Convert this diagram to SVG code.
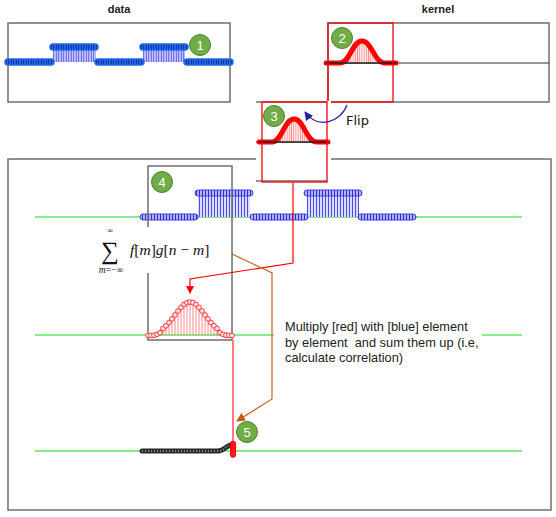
<svg xmlns="http://www.w3.org/2000/svg" width="556" height="517" viewBox="0 0 556 517">
<style>
.frame{fill:none;stroke:#6e6e6e;stroke-width:1.5}
.axis{stroke:#333;stroke-width:1.2}
.green{stroke:#5be85b;stroke-width:1.6}
.badge circle{fill:#70ad47;stroke:#507e32;stroke-width:1}
.badge text{fill:#fff;font-family:"Liberation Sans",Arial,sans-serif;font-size:13px;text-anchor:middle}
.title{font-family:"Liberation Sans",Arial,sans-serif;font-size:11px;font-weight:bold;text-anchor:middle;fill:#222}
.bcap{fill:url(#pBlueDot);stroke:#3a3aff;stroke-width:1}
.dcap{fill:url(#pDataDot);stroke:#1e6ae6;stroke-width:1.5}
.bell{fill:none;stroke:#ff0000;stroke-width:5;stroke-linecap:round;stroke-linejoin:round}
.rc{fill:#ffe4e4;stroke:#ff3a3a;stroke-width:1}
.para{font-family:"Liberation Sans",Arial,sans-serif;font-size:12.8px;fill:#222;white-space:pre}
.math{font-family:"Liberation Serif","Times New Roman",serif;fill:#111}
</style>
<defs>
<pattern id="pBlueStem" width="3" height="4" patternUnits="userSpaceOnUse"><rect width="3" height="4" fill="#dcdcff"/><line x1="1.5" y1="0" x2="1.5" y2="4" stroke="#3c3cf0" stroke-width="0.9"/></pattern>
<pattern id="pBlueDot" width="3" height="4" patternUnits="userSpaceOnUse"><rect width="3" height="4" fill="#b4b4ff"/><line x1="1.5" y1="0" x2="1.5" y2="4" stroke="#1c1cb8" stroke-width="0.9"/></pattern>
<pattern id="pDataStem" width="2.5" height="4" patternUnits="userSpaceOnUse"><rect width="2.5" height="4" fill="#c4c4ff"/><line x1="1.25" y1="0" x2="1.25" y2="4" stroke="#3b3bea" stroke-width="0.8"/></pattern>
<pattern id="pDataDot" width="2.5" height="4" patternUnits="userSpaceOnUse"><rect width="2.5" height="4" fill="#2d72ea"/><line x1="1.25" y1="0" x2="1.25" y2="4" stroke="#001c9a" stroke-width="1"/></pattern>
<pattern id="pRedStem" width="2.2" height="4" patternUnits="userSpaceOnUse"><rect width="2.2" height="4" fill="#ffe8e8"/><line x1="1.1" y1="0" x2="1.1" y2="4" stroke="#ff5c5c" stroke-width="0.6"/></pattern>
<marker id="mRed" markerWidth="8" markerHeight="8" refX="7" refY="4" orient="auto" markerUnits="userSpaceOnUse"><path d="M0,0 L8,4 L0,8 z" fill="#ff0000"/></marker>
<marker id="mOrange" markerWidth="9" markerHeight="9" refX="8" refY="4.5" orient="auto" markerUnits="userSpaceOnUse"><path d="M0,0 L9,4.5 L0,9 z" fill="#c55a11"/></marker>
<marker id="mBlue" markerWidth="9" markerHeight="9" refX="8" refY="4.5" orient="auto" markerUnits="userSpaceOnUse"><path d="M0,0 L9,4.5 L0,9 z" fill="#2b1fa8"/></marker>
</defs>
<rect width="556" height="517" fill="#fff"/>

<text class="title" x="119" y="13">data</text>
<text class="title" x="438" y="13">kernel</text>

<!-- main stage frame -->
<rect id="stage" class="frame" x="8" y="159" width="543" height="351"/>

<!-- data panel -->
<g id="data">
<rect class="frame" x="8" y="23" width="222" height="79"/>
<rect x="53" y="47" width="43" height="15" fill="url(#pDataStem)"/>
<rect x="143" y="47" width="42" height="15" fill="url(#pDataStem)"/>
<rect class="dcap" x="5" y="59" width="49" height="6" rx="3"/>
<rect class="dcap" x="50" y="44" width="48" height="6" rx="3"/>
<rect class="dcap" x="95" y="59" width="49" height="6" rx="3"/>
<rect class="dcap" x="140" y="44" width="48" height="6" rx="3"/>
<rect class="dcap" x="184" y="59" width="49" height="6" rx="3"/>
<g class="badge"><circle cx="200" cy="45" r="10.5"/><text x="200" y="49.5">1</text></g>
</g>

<!-- kernel panel -->
<g id="kernel">
<rect class="frame" x="328" y="23" width="221" height="79"/>
<line x1="328" y1="63" x2="549" y2="63" class="axis"/>
<path d="M340,63 C350,63 352,41 362,41 C372,41 374,63 385,63 Z" fill="url(#pRedStem)"/>
<path class="bell" d="M326,63 L340,63 C350,63 352,41 362,41 C372,41 374,63 385,63 L396,63"/>
<line x1="326" y1="63" x2="396" y2="63" stroke="#222" stroke-width="1.5"/>
<rect x="328" y="23" width="65" height="79" fill="none" stroke="#ff0000" stroke-width="1.3"/>
<g class="badge"><circle cx="342" cy="38" r="10.5"/><text x="342" y="42.5">2</text></g>
</g>

<!-- flipped kernel -->
<g id="flipped">
<rect x="256" y="101" width="75" height="82" fill="#fff"/>
<line x1="256" y1="102" x2="327" y2="102" stroke="#6e6e6e" stroke-width="1.5"/>
<line x1="256" y1="181" x2="327" y2="181" stroke="#6e6e6e" stroke-width="1.5"/>
<line x1="256" y1="142" x2="327" y2="142" class="axis"/>
<path d="M272,142 C282,142 284,119 294,119 C304,119 306,142 317,142 Z" fill="url(#pRedStem)"/>
<path class="bell" d="M259,142 L272,142 C282,142 284,119 294,119 C304,119 306,142 317,142 L328,142"/>
<line x1="259" y1="142" x2="328" y2="142" stroke="#222" stroke-width="1.5"/>
<rect x="262" y="102" width="65" height="80" fill="none" stroke="#ff0000" stroke-width="1.3"/>
<g class="badge"><circle cx="274" cy="116" r="10.5"/><text x="274" y="120.5">3</text></g>
<text x="346" y="125" font-family="'DejaVu Sans',sans-serif" font-size="13" fill="#111">Flip</text>
</g>

<!-- axes -->
<line class="green" x1="35" y1="217" x2="522" y2="217"/>
<line class="green" x1="35" y1="335" x2="522" y2="335"/>
<line class="green" x1="35" y1="451" x2="522" y2="451"/>

<!-- shifted data -->
<g id="signal">
<rect x="198" y="193" width="52" height="24" fill="url(#pBlueStem)"/>
<rect x="307" y="193" width="52" height="24" fill="url(#pBlueStem)"/>
<rect class="bcap" x="140" y="214" width="58" height="6" rx="3"/>
<rect class="bcap" x="195" y="190" width="58" height="6" rx="3"/>
<rect class="bcap" x="250" y="214" width="58" height="6" rx="3"/>
<rect class="bcap" x="304" y="190" width="58" height="6" rx="3"/>
<rect class="bcap" x="358" y="214" width="58" height="6" rx="3"/>
</g>

<!-- sliding window -->
<g id="window">
<rect class="frame" x="148" y="166" width="84" height="174"/>
<g class="badge"><circle cx="162" cy="182" r="10.5"/><text x="162" y="186.5">4</text></g>
<path d="M148,334.3V335M151,333.9V335M154,333.2V335M157,332.1V335M160,330.5V335M163,328.5V335M166,325.8V335M169,322.6V335M172,318.9V335M175,315V335M178,311V335M181,307.4V335M184,304.5V335M187,302.7V335M190,302V335M193,302.7V335M196,304.5V335M199,307.4V335M202,311V335M205,315V335M208,318.9V335M211,322.6V335M214,325.8V335M217,328.5V335M220,330.5V335M223,332.1V335M226,333.2V335M229,333.9V335M232,334.3V335" stroke="#ff6a6a" stroke-width="0.8"/>
<g>
<circle class="rc" cx="148" cy="335.5" r="2.4"/><circle class="rc" cx="151" cy="335.4" r="2.4"/><circle class="rc" cx="154" cy="335.2" r="2.4"/><circle class="rc" cx="157" cy="334.4" r="2.4"/><circle class="rc" cx="160" cy="332.8" r="2.4"/><circle class="rc" cx="163" cy="328.5" r="2.4"/><circle class="rc" cx="166" cy="325.8" r="2.4"/><circle class="rc" cx="169" cy="322.6" r="2.4"/><circle class="rc" cx="172" cy="318.9" r="2.4"/><circle class="rc" cx="175" cy="315" r="2.4"/><circle class="rc" cx="178" cy="311" r="2.4"/><circle class="rc" cx="181" cy="307.4" r="2.4"/><circle class="rc" cx="184" cy="304.5" r="2.4"/><circle class="rc" cx="187" cy="302.7" r="2.4"/><circle class="rc" cx="190" cy="302" r="2.4"/><circle class="rc" cx="193" cy="302.7" r="2.4"/><circle class="rc" cx="196" cy="304.5" r="2.4"/><circle class="rc" cx="199" cy="307.4" r="2.4"/><circle class="rc" cx="202" cy="311" r="2.4"/><circle class="rc" cx="205" cy="315" r="2.4"/><circle class="rc" cx="208" cy="318.9" r="2.4"/><circle class="rc" cx="211" cy="322.6" r="2.4"/><circle class="rc" cx="214" cy="325.8" r="2.4"/><circle class="rc" cx="217" cy="328.5" r="2.4"/><circle class="rc" cx="220" cy="332.8" r="2.4"/><circle class="rc" cx="223" cy="334.4" r="2.4"/><circle class="rc" cx="226" cy="335.2" r="2.4"/><circle class="rc" cx="229" cy="335.4" r="2.4"/><circle class="rc" cx="232" cy="335.5" r="2.4"/>
</g>
</g>

<!-- formula -->
<g id="formula">
<rect x="92" y="227" width="134" height="46" fill="#fff"/>
<text class="math" x="110" y="233" font-size="8" text-anchor="middle">∞</text>
<text class="math" x="110" y="259" font-size="25" text-anchor="middle">∑</text>
<text class="math" x="111" y="272.5" font-size="9.5" text-anchor="middle"><tspan font-style="italic">m</tspan>=−∞</text>
<text class="math" x="130" y="255" font-size="15.5" xml:space="preserve"><tspan font-style="italic">f</tspan>[<tspan font-style="italic">m</tspan>]<tspan font-style="italic">g</tspan>[<tspan font-style="italic">n</tspan> − <tspan font-style="italic">m</tspan>]</text>
</g>

<!-- description -->
<g id="note">
<rect x="274" y="316" width="208" height="56" fill="#fff"/>
<text class="para" x="285" y="331">Multiply [red] with [blue] element</text>
<text class="para" x="285" y="346.5" xml:space="preserve">by element  and sum them up (i.e,</text>
<text class="para" x="285" y="362">calculate correlation)</text>
</g>

<!-- result -->
<g id="result">
<path d="M142,451 H218 C224,451 226,446 231,445" fill="none" stroke="#2a2a2a" stroke-width="5" stroke-linecap="round"/>
<path d="M142,451 H218 C224,451 226,446 231,445" fill="none" stroke="#b0b0b0" stroke-width="1.5" stroke-dasharray="1 2"/>
<g class="badge"><circle cx="247" cy="432" r="10.5"/><text x="247" y="436.5">5</text></g>
</g>

<!-- connectors -->
<g id="connectors" fill="none">
<path d="M293,183 V263 L190,279 V293" stroke="#ff0000" stroke-width="1.2" marker-end="url(#mRed)"/>
<path d="M232,254 L272,273 V399 L237,421" stroke="#c8641e" stroke-width="1.2" marker-end="url(#mOrange)"/>
<path d="M347,105 C341,122 318,130 305,112" stroke="#2b1fa8" stroke-width="1.2" marker-end="url(#mBlue)"/>
<line x1="233" y1="340" x2="233" y2="448" stroke="#ff7a7a" stroke-width="2"/>
</g>

<g id="result-point">
<circle cx="233" cy="444" r="2.8" fill="#ff2020" stroke="#ff0000"/>
<circle cx="233" cy="447.5" r="2.8" fill="#ff2020" stroke="#ff0000"/>
<circle cx="233" cy="451" r="2.8" fill="#ff2020" stroke="#ff0000"/>
<circle cx="233" cy="454.5" r="2.8" fill="#ff2020" stroke="#ff0000"/>
</g>
</svg>
